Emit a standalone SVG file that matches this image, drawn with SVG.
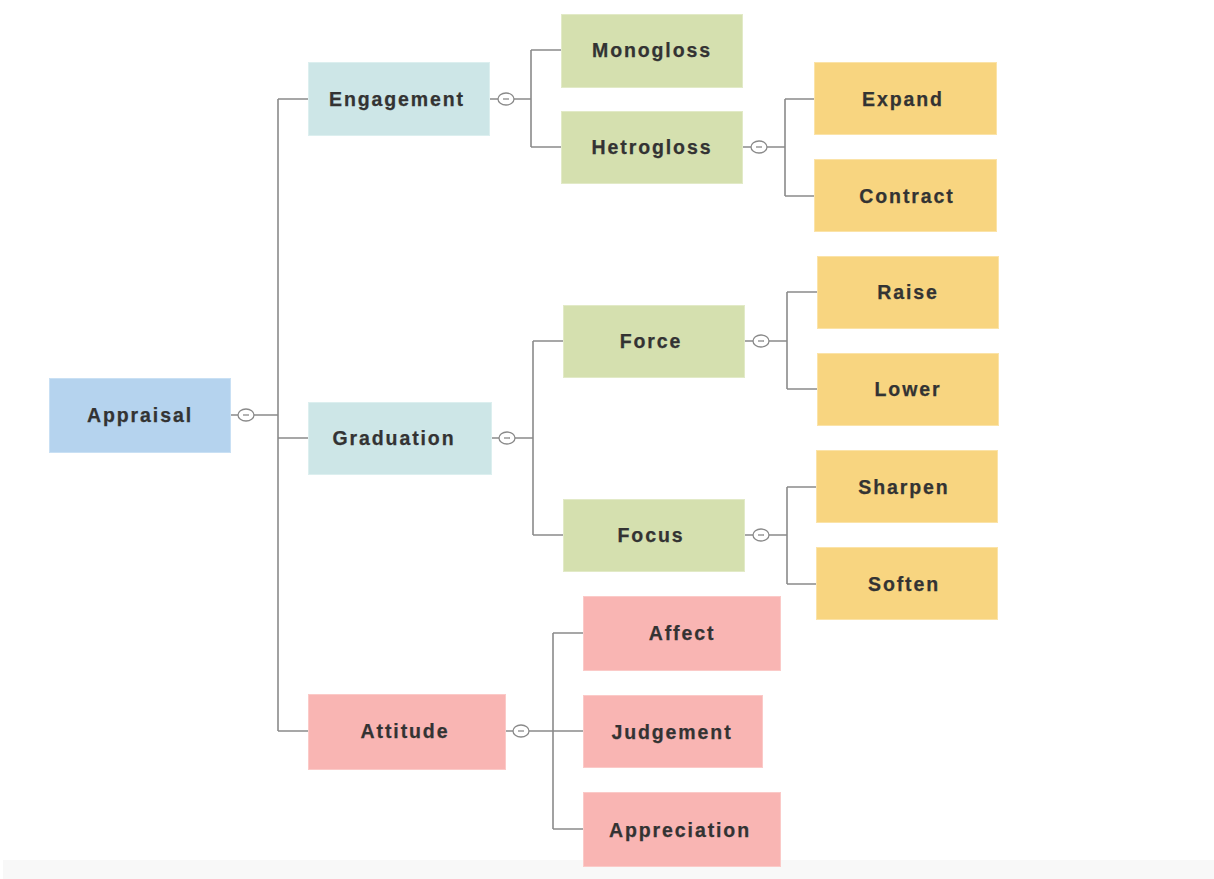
<svg xmlns="http://www.w3.org/2000/svg" width="1214" height="879" viewBox="0 0 1214 879">
<style>
.n rect{stroke-width:1}
.t{font-family:"Liberation Sans",Arial,sans-serif;font-weight:bold;font-size:19.5px;letter-spacing:1.9px;fill:#333;stroke:#333;stroke-width:0.25;text-anchor:middle;dominant-baseline:central}
.blue{fill:#b5d3ee;stroke:#c9e0f4}
.teal{fill:#cde6e7;stroke:#dcefef}
.green{fill:#d5e0af;stroke:#e2eac7}
.orange{fill:#f8d580;stroke:#fbe3a8}
.pink{fill:#f9b5b3;stroke:#fbcac8}
.c path,.c line{stroke:#8a8a8a;stroke-width:1.6;fill:none}
.c ellipse{fill:#fff;stroke:#8a8a8a;stroke-width:1.3}
.c .m{stroke:#8a8a8a;stroke-width:1.3}
</style>
<rect x="3" y="860" width="1211" height="19" fill="#f8f8f8"/>
<g class="c" id="connectors">
<path d="M230 415H278M278 99V731M278 99H308M278 438H308M278 731H308"/>
<path d="M489 99H531M531 50V147M531 50H561M531 147H561"/>
<path d="M743 147H785M785 99V196M785 99H815M785 196H815"/>
<path d="M491 438H533M533 341V535M533 341H563M533 535H563"/>
<path d="M745 341H787M787 292V389M787 292H817M787 389H817"/>
<path d="M745 535H787M787 487V584M787 487H816M787 584H816"/>
<path d="M505 731H583M553 633V829M553 633H583M553 829H583"/>
<ellipse cx="246" cy="415" rx="8" ry="6"/><line class="m" x1="243" y1="415" x2="249" y2="415"/>
<ellipse cx="506" cy="99" rx="8" ry="6"/><line class="m" x1="503" y1="99" x2="509" y2="99"/>
<ellipse cx="759" cy="147" rx="8" ry="6"/><line class="m" x1="756" y1="147" x2="762" y2="147"/>
<ellipse cx="507" cy="438" rx="8" ry="6"/><line class="m" x1="504" y1="438" x2="510" y2="438"/>
<ellipse cx="761" cy="341" rx="8" ry="6"/><line class="m" x1="758" y1="341" x2="764" y2="341"/>
<ellipse cx="761" cy="535" rx="8" ry="6"/><line class="m" x1="758" y1="535" x2="764" y2="535"/>
<ellipse cx="521" cy="731" rx="8" ry="6"/><line class="m" x1="518" y1="731" x2="524" y2="731"/>
</g>
<g class="n" id="appraisal"><rect class="blue" x="49.5" y="378.5" width="181" height="74"/><text class="t" x="140" y="415">Appraisal</text></g>
<g class="n" id="engagement"><rect class="teal" x="308.5" y="62.5" width="181" height="73"/><text class="t" x="397" y="99">Engagement</text></g>
<g class="n" id="graduation"><rect class="teal" x="308.5" y="402.5" width="183" height="72"/><text class="t" x="394" y="438">Graduation</text></g>
<g class="n" id="attitude"><rect class="pink" x="308.5" y="694.5" width="197" height="75"/><text class="t" x="405" y="731">Attitude</text></g>
<g class="n" id="monogloss"><rect class="green" x="561.5" y="14.5" width="181" height="73"/><text class="t" x="652" y="50">Monogloss</text></g>
<g class="n" id="hetrogloss"><rect class="green" x="561.5" y="111.5" width="181" height="72"/><text class="t" x="652" y="147">Hetrogloss</text></g>
<g class="n" id="expand"><rect class="orange" x="814.5" y="62.5" width="182" height="72"/><text class="t" x="903" y="99">Expand</text></g>
<g class="n" id="contract"><rect class="orange" x="814.5" y="159.5" width="182" height="72"/><text class="t" x="907" y="196">Contract</text></g>
<g class="n" id="force"><rect class="green" x="563.5" y="305.5" width="181" height="72"/><text class="t" x="651" y="341">Force</text></g>
<g class="n" id="focus"><rect class="green" x="563.5" y="499.5" width="181" height="72"/><text class="t" x="651" y="535">Focus</text></g>
<g class="n" id="raise"><rect class="orange" x="817.5" y="256.5" width="181" height="72"/><text class="t" x="908" y="292">Raise</text></g>
<g class="n" id="lower"><rect class="orange" x="817.5" y="353.5" width="181" height="72"/><text class="t" x="908" y="389">Lower</text></g>
<g class="n" id="sharpen"><rect class="orange" x="816.5" y="450.5" width="181" height="72"/><text class="t" x="904" y="487">Sharpen</text></g>
<g class="n" id="soften"><rect class="orange" x="816.5" y="547.5" width="181" height="72"/><text class="t" x="904" y="584">Soften</text></g>
<g class="n" id="affect"><rect class="pink" x="583.5" y="596.5" width="197" height="74"/><text class="t" x="682" y="633">Affect</text></g>
<g class="n" id="judgement"><rect class="pink" x="583.5" y="695.5" width="179" height="72"/><text class="t" x="672" y="732">Judgement</text></g>
<g class="n" id="appreciation"><rect class="pink" x="583.5" y="792.5" width="197" height="74"/><text class="t" x="680" y="830">Appreciation</text></g>
</svg>
